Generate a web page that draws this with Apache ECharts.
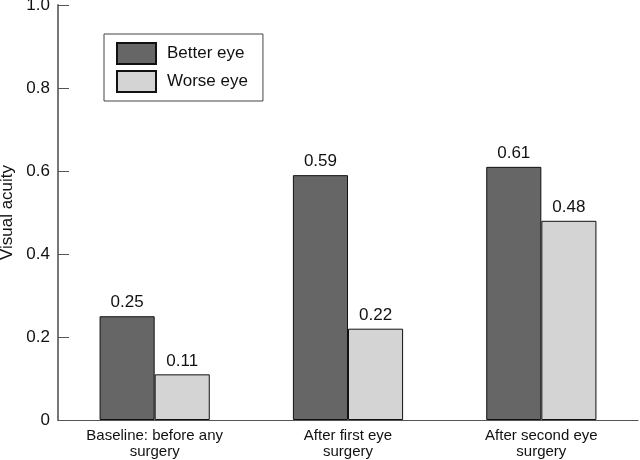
<!DOCTYPE html>
<html><head><meta charset="utf-8">
<script src="https://cdn.jsdelivr.net/npm/echarts@6/dist/echarts.min.js"></script>
<style>html,body{margin:0;padding:0;background:#fff}#c{width:640px;height:460px}</style>
</head><body><div id="c"></div>
<script>
const categories = ["Baseline: before any\nsurgery", "After first eye\nsurgery", "After second eye\nsurgery"];
const betterEye = [0.25, 0.59, 0.61];
const worseEye = [0.11, 0.22, 0.48];
const seriesNames = ["Better eye", "Worse eye"];
const yAxisName = "Visual acuity";

const chart = echarts.init(document.getElementById('c'), null, {renderer: 'canvas'});
const font = 'Liberation Sans, Arial, Helvetica, sans-serif';
chart.setOption({
  animation: false,
  backgroundColor: '#fff',
  textStyle: {fontFamily: font},
  grid: {left: 58, right: 2, top: 5, bottom: 40, containLabel: false, outerBoundsMode: 'none'},
  legend: {
    orient: 'vertical', left: 104, top: 34,
    data: seriesNames,
    itemWidth: 39, itemHeight: 21, itemGap: 5,
    padding: [8, 15, 8, 12],
    borderColor: '#444', borderWidth: 1,
    textStyle: {fontSize: 17, color: '#111', fontFamily: font, padding: [0, 0, 0, 6]},
    icon: 'rect'
  },
  xAxis: {
    type: 'category', data: categories,
    axisLine: {lineStyle: {color: '#555', width: 1}},
    axisTick: {inside: true, length: 12, lineStyle: {color: '#555'}},
    axisLabel: {fontSize: 15, color: '#111', lineHeight: 16, margin: 8, fontFamily: font}
  },
  yAxis: {
    type: 'value', min: 0, max: 1, interval: 0.2,
    name: yAxisName, nameLocation: 'middle', nameGap: 41, nameRotate: 90,
    nameTextStyle: {fontSize: 17, color: '#111', fontFamily: font},
    splitLine: {show: false},
    axisLine: {show: true, lineStyle: {color: '#777', width: 2}},
    axisTick: {show: true, inside: true, length: 11, lineStyle: {color: '#555'}},
    axisLabel: {fontSize: 17, color: '#111', margin: 8, fontFamily: font,
      formatter: v => v === 0 ? '0' : v.toFixed(1)}
  },
  series: [
    {name: seriesNames[0], type: 'bar', data: betterEye, barGap: '0%', barCategoryGap: '43%',
     itemStyle: {color: '#666666', borderColor: '#111', borderWidth: 1},
     label: {show: true, position: 'top', fontSize: 17, color: '#111', distance: 5, fontFamily: font,
       formatter: p => p.value.toFixed(2)}},
    {name: seriesNames[1], type: 'bar', data: worseEye,
     itemStyle: {color: '#d4d4d4', borderColor: '#111', borderWidth: 1},
     label: {show: true, position: 'top', fontSize: 17, color: '#111', distance: 5, fontFamily: font,
       formatter: p => p.value.toFixed(2)}}
  ]
});
</script></body></html>
